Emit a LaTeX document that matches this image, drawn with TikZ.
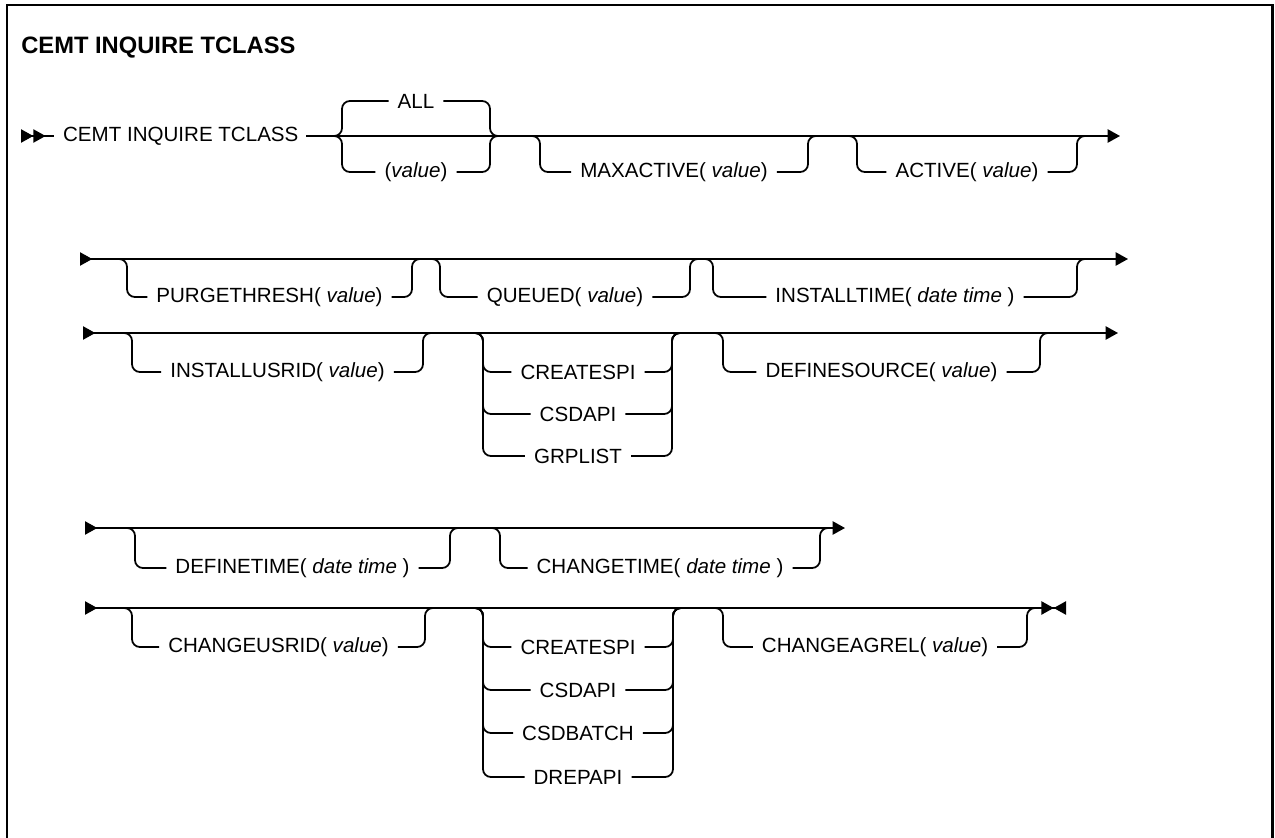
\documentclass[tikz,border=0pt]{standalone}
\usepackage{fontspec}
\setmainfont{Liberation Sans}
\usetikzlibrary{arrows.meta}

\tikzset{
  rail/.style={line width=1pt},
  detour/.style={rail, rounded corners=4.5pt},
  item/.style={font=\fontsize{11.7}{13}\selectfont, inner xsep=5pt, inner ysep=2pt},
  head/.style={font=\bfseries\fontsize{13.5}{16}\selectfont, inner sep=0pt},
  frame/.style={line width=1.7pt},
  rarr/.tip={Triangle[length=7pt,width=7.5pt]},
  larr/.tip={Triangle[length=7pt,width=7.5pt,reversed]}
}

\begin{document}
\begin{tikzpicture}[x=0.02cm,y=-0.02cm]
  \useasboundingbox (0,0) rectangle (1275,838);
  % open box round the diagram
  \coordinate (sw) at (7,838);
  \coordinate (ne) at (1272,5);
  \coordinate (se) at (1272,838);
  \draw[frame] (sw) |- (ne) -- (se);
  \node[head, anchor=west] (head) at (21,48) {CEMT INQUIRE TCLASS};

  % main rails
  \coordinate (r1a) at (21,136);
  \node[item, anchor=west] (r1t) at (54,136) {CEMT INQUIRE TCLASS};
  \coordinate (r1c) at (306,136);
  \coordinate (r1b) at (1120,136);
  \draw[rail,{larr[]larr[]}-] (r1a) -- (r1t);
  \draw[rail,-{rarr[]}] (r1c) -- (r1b);
  \foreach \r/\xa/\xb/\y in {r2/80/1128/259, r3/83/1118/333, r4/85/845/528}{
    \coordinate (\r a) at (\xa,\y);
    \coordinate (\r b) at (\xb,\y);
    \draw[rail,{larr[]}-{rarr[]}] (\r a) -- (\r b);
  }
  \coordinate (r5a) at (85,608);
  \coordinate (r5b) at (1066,608);
  \draw[rail,{larr[]}-{rarr[] larr[]}] (r5a) -- (r5b);

  % ALL or (value)
  \coordinate (pick-in) at (342,136);
  \coordinate (pick-out) at (490,136);
  \foreach \n/\y/\t in {all/101/ALL, val/172/{(\textit{value})}}{
    \node[item] (\n) at (416,\y) {\t};
    \draw[detour] ([xshift=-6pt]pick-in) -- (pick-in) |- (\n.west);
    \draw[detour] (\n.east) -| (pick-out) -- ([xshift=6pt]pick-out);
  }

  % optional keywords
  \foreach \n/\l/\r/\m/\b/\t in {
      maxact/540/808/136/172/{MAXACTIVE( \textit{value})},
      act/857/1077/136/172/{ACTIVE( \textit{value})},
      purge/127/412/259/297/{PURGETHRESH( \textit{value})},
      queued/440/690/259/297/{QUEUED( \textit{value})},
      insttime/713/1077/259/297/{INSTALLTIME( \textit{date time} )},
      instusr/132/423/333/372/{INSTALLUSRID( \textit{value})},
      defsrc/723/1040/333/372/{DEFINESOURCE( \textit{value})},
      deftime/135/450/528/568/{DEFINETIME( \textit{date time} )},
      chgtime/500/820/528/568/{CHANGETIME( \textit{date time} )},
      chgusr/132/425/608/647/{CHANGEUSRID( \textit{value})},
      agrel/723/1027/608/647/{CHANGEAGREL( \textit{value})}}{
    \coordinate (\n-in) at (\l,\m);
    \coordinate (\n-out) at (\r,\m);
    \node[item] (\n) at ({(\l+\r)/2},\b) {\t};
    \draw[detour] ([xshift=-6pt]\n-in) -- (\n-in) |- (\n.west);
    \draw[detour] (\n.east) -| (\n-out) -- ([xshift=6pt]\n-out);
  }

  % install agent
  \coordinate (inst-in) at (483,333);
  \coordinate (inst-out) at (672,333);
  \foreach \n/\y/\t in {ia/372/CREATESPI, ib/414/CSDAPI, ic/456/GRPLIST}{
    \node[item] (\n) at (578,\y) {\t};
    \draw[detour] ([xshift=-6pt]inst-in) -- (inst-in) |- (\n.west);
    \draw[detour] (\n.east) -| (inst-out) -- ([xshift=6pt]inst-out);
  }

  % change agent
  \coordinate (chg-in) at (483,608);
  \coordinate (chg-out) at (673,608);
  \foreach \n/\y/\t in {ca/647/CREATESPI, cb/690/CSDAPI, cc/733/CSDBATCH, cd/777/DREPAPI}{
    \node[item] (\n) at (578,\y) {\t};
    \draw[detour] ([xshift=-6pt]chg-in) -- (chg-in) |- (\n.west);
    \draw[detour] (\n.east) -| (chg-out) -- ([xshift=6pt]chg-out);
  }
\end{tikzpicture}
\end{document}
